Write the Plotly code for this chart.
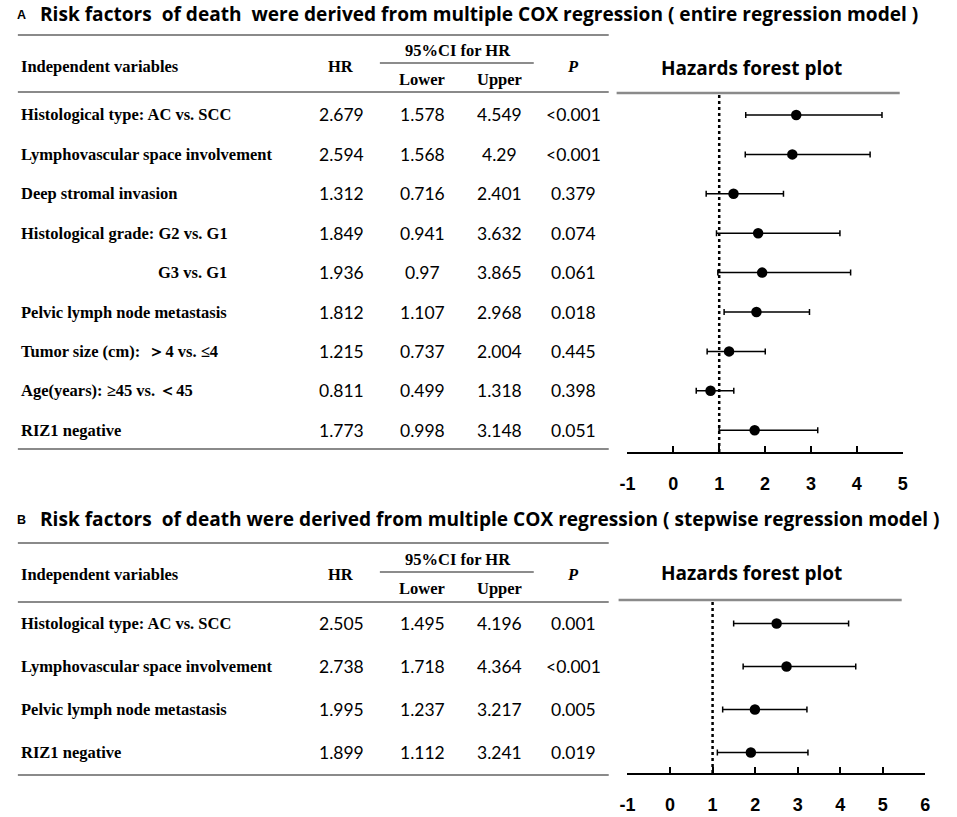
import plotly.graph_objects as go

# ---------------- data ----------------
a_labels = ["Histological type: AC vs. SCC", "Lymphovascular space involvement",
            "Deep stromal invasion", "Histological grade: G2 vs. G1", "G3 vs. G1",
            "Pelvic lymph node metastasis", "Tumor size (cm):  ＞4 vs. ≤4",
            "Age(years): ≥45 vs. ＜45", "RIZ1 negative"]
a_hr = [2.679, 2.594, 1.312, 1.849, 1.936, 1.812, 1.215, 0.811, 1.773]
a_lower = [1.578, 1.568, 0.716, 0.941, 0.97, 1.107, 0.737, 0.499, 0.998]
a_upper = [4.549, 4.29, 2.401, 3.632, 3.865, 2.968, 2.004, 1.318, 3.148]
a_p = ["<0.001", "<0.001", "0.379", "0.074", "0.061", "0.018", "0.445", "0.398", "0.051"]
a_ticks = [-1, 0, 1, 2, 3, 4, 5]
a_title = "Risk factors  of death  were derived from multiple COX regression ( entire regression model )"

b_labels = ["Histological type: AC vs. SCC", "Lymphovascular space involvement",
            "Pelvic lymph node metastasis", "RIZ1 negative"]
b_hr = [2.505, 2.738, 1.995, 1.899]
b_lower = [1.495, 1.718, 1.237, 1.112]
b_upper = [4.196, 4.364, 3.217, 3.241]
b_p = ["0.001", "<0.001", "0.005", "0.019"]
b_ticks = [-1, 0, 1, 2, 3, 4, 5, 6]
b_title = "Risk factors  of death were derived from multiple COX regression ( stepwise regression model )"

# ---------------- layout helpers ----------------
W, H = 957, 817


def X(px):
    return px / W


def Y(py):
    return 1 - py / H


SERIF = "Liberation Serif"
SANS = "Lato"
TSANS = "Open Sans"
GRAY = "#8a8a8a"

panels = [
    dict(letter="A", title=a_title, labels=a_labels, hr=a_hr, lo=a_lower, up=a_upper, p=a_p,
         ticks=a_ticks, xr=[-1, 5], xax="x", yax="y", axname="", title_y=14,
         top=35, ci_y=51, ci_line=63, head_y=66, sub_y=80, head_bot=92, row0=115, step=39.4,
         bot=449, axis_y=452, ftop=93, fx0=628, fx1=907, fl0=617, fl1=904, haz_y=68,
         indent=[4]),
    dict(letter="B", title=b_title, labels=b_labels, hr=b_hr, lo=b_lower, up=b_upper, p=b_p,
         ticks=b_ticks, xr=[-1, 6], xax="x2", yax="y2", axname="2", title_y=519,
         top=543, ci_y=559, ci_line=572, head_y=574, sub_y=588, head_bot=602, row0=623.5, step=43,
         bot=775, axis_y=773, ftop=600, fx0=628, fx1=930, fl0=619, fl1=906, haz_y=573,
         indent=[]),
]

col_x = {"HR": 338, "Lower": 420, "Upper": 498, "P": 573}

fig = go.Figure()
annotations = []
shapes = []
layout_axes = {}

for pn in panels:
    n = len(pn["labels"])
    rows = list(range(n))
    # forest plot trace
    fig.add_trace(go.Scatter(
        x=pn["hr"], y=rows, mode="markers",
        marker=dict(color="black", size=10.5),
        error_x=dict(type="data", symmetric=False,
                     array=[u - h for u, h in zip(pn["up"], pn["hr"])],
                     arrayminus=[h - l for h, l in zip(pn["hr"], pn["lo"])],
                     color="black", thickness=1.5, width=3),
        xaxis=pn["xax"], yaxis=pn["yax"], showlegend=False, cliponaxis=False,
        hoverinfo="skip"))

    yr = [(pn["axis_y"] - pn["row0"]) / pn["step"], (pn["ftop"] - pn["row0"]) / pn["step"]]
    layout_axes["xaxis" + pn["axname"]] = dict(
        domain=[X(pn["fx0"]), X(pn["fx1"])], range=pn["xr"], anchor=pn["yax"],
        showline=True, linecolor="black", linewidth=2, ticks="inside", ticklen=6,
        tickwidth=2, tickcolor="black", tickvals=pn["ticks"],
        ticktext=[str(t) for t in pn["ticks"]], showgrid=False, zeroline=False,
        tickfont=dict(family="Liberation Sans", size=18, color="black", weight="bold"),
        ticklabelstandoff=14, fixedrange=True)
    layout_axes["yaxis" + pn["axname"]] = dict(
        domain=[Y(pn["axis_y"]), Y(pn["ftop"])], range=yr, anchor=pn["xax"],
        visible=False, fixedrange=True)

    # dotted reference line at HR = 1
    shapes.append(dict(type="line", xref=pn["xax"], x0=1, x1=1,
                       yref=pn["yax"] + " domain", y0=0, y1=1,
                       line=dict(color="black", width=2.5, dash="dot")))
    # gray top line of forest
    shapes.append(dict(type="line", xref="paper", yref="paper",
                       x0=X(pn["fl0"]), x1=X(pn["fl1"]), y0=Y(pn["ftop"]), y1=Y(pn["ftop"]),
                       line=dict(color=GRAY, width=2.5)))
    # table lines
    for yy in (pn["top"], pn["head_bot"], pn["bot"]):
        shapes.append(dict(type="line", xref="paper", yref="paper",
                           x0=X(10), x1=X(609), y0=Y(yy), y1=Y(yy),
                           line=dict(color=GRAY, width=2)))
    shapes.append(dict(type="line", xref="paper", yref="paper",
                       x0=X(377), x1=X(533), y0=Y(pn["ci_line"]), y1=Y(pn["ci_line"]),
                       line=dict(color="#666666", width=1.5)))

    # titles
    annotations.append(dict(text="<b>" + pn["letter"] + "</b>", x=X(7), y=Y(pn["title_y"] + 1),
                            xref="paper", yref="paper", xanchor="left", yanchor="middle",
                            showarrow=False, font=dict(family="Liberation Sans", size=12.5, color="black")))
    annotations.append(dict(text="<b>" + pn["title"] + "</b>", x=X(30), y=Y(pn["title_y"]),
                            xref="paper", yref="paper", xanchor="left", yanchor="middle",
                            showarrow=False, font=dict(family=TSANS, size=19.1, color="black")))
    annotations.append(dict(text="<b>Hazards forest plot</b>", x=X(754), y=Y(pn["haz_y"]),
                            xref="paper", yref="paper", xanchor="center", yanchor="middle",
                            showarrow=False, font=dict(family=TSANS, size=19, color="black")))

    # header
    hfont = dict(family=SERIF, size=16.5, color="black")
    annotations.append(dict(text="<b>Independent variables</b>", x=X(11), y=Y(pn["head_y"]),
                            xref="paper", yref="paper", xanchor="left", yanchor="middle",
                            showarrow=False, font=hfont))
    annotations.append(dict(text="<b>HR</b>", x=X(col_x["HR"]), y=Y(pn["head_y"]),
                            xref="paper", yref="paper", xanchor="center", yanchor="middle",
                            showarrow=False, font=hfont))
    annotations.append(dict(text="<b>95%CI for HR</b>", x=X(456), y=Y(pn["ci_y"]),
                            xref="paper", yref="paper", xanchor="center", yanchor="middle",
                            showarrow=False, font=hfont))
    for c in ("Lower", "Upper"):
        annotations.append(dict(text="<b>" + c + "</b>", x=X(col_x[c]), y=Y(pn["sub_y"]),
                                xref="paper", yref="paper", xanchor="center", yanchor="middle",
                                showarrow=False, font=hfont))
    annotations.append(dict(text="<b><i>P</i></b>", x=X(col_x["P"]), y=Y(pn["head_y"]),
                            xref="paper", yref="paper", xanchor="center", yanchor="middle",
                            showarrow=False, font=hfont))

    # rows
    nfont = dict(family=SANS, size=17.5, color="black")
    for i in rows:
        if i in pn["indent"]:
            annotations.append(dict(text="<b>" + pn["labels"][i] + "</b>", x=X(224), y=i,
                                    xref="paper", yref=pn["yax"], xanchor="right", yanchor="middle",
                                    showarrow=False, font=hfont))
        else:
            annotations.append(dict(text="<b>" + pn["labels"][i] + "</b>", x=X(11), y=i,
                                    xref="paper", yref=pn["yax"], xanchor="left", yanchor="middle",
                                    showarrow=False, font=hfont))
        for key, vals in (("HR", pn["hr"]), ("Lower", pn["lo"]), ("Upper", pn["up"]), ("P", pn["p"])):
            annotations.append(dict(text=str(vals[i]), x=X(col_x[key]), y=i,
                                    xref="paper", yref=pn["yax"], xanchor="center", yanchor="middle",
                                    showarrow=False, font=nfont))

fig.update_layout(
    width=W, height=H, margin=dict(l=0, r=0, t=0, b=0),
    paper_bgcolor="white", plot_bgcolor="white",
    annotations=annotations, shapes=shapes, showlegend=False,
    **layout_axes)

fig.write_html(
    "out.html",
    config={"displayModeBar": False, "staticPlot": True},
    post_script="document.body.style.margin='0';document.body.style.padding='0';"
                "document.body.style.overflow='hidden';")
